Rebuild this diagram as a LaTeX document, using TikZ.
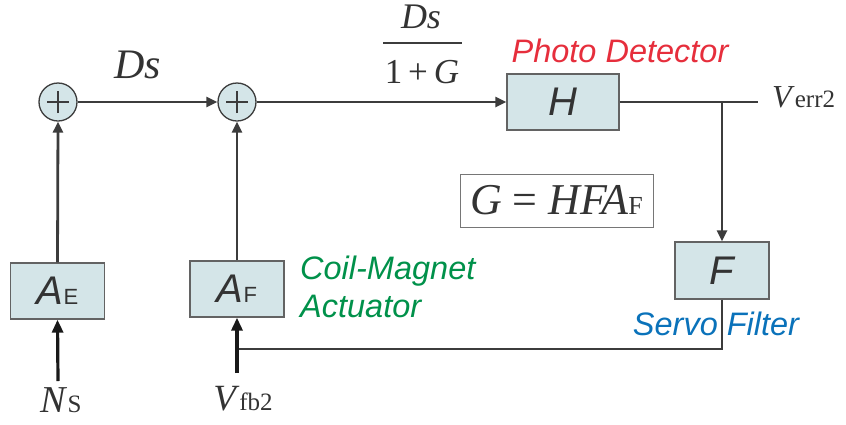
\documentclass[tikz,border=0pt]{standalone}
\usepackage{fontspec}
\setmainfont{Liberation Serif}
\newfontfamily\sansf{Liberation Sans}
\usetikzlibrary{arrows.meta,calc}
\definecolor{boxfill}{HTML}{D4E5E8}
\definecolor{linec}{HTML}{3C3C3C}
\definecolor{txt}{HTML}{333333}
\definecolor{pdred}{HTML}{E62E3C}
\definecolor{cmgreen}{HTML}{00914A}
\definecolor{sfblue}{HTML}{0A72BA}
\newcommand{\fs}[1]{\fontsize{#1}{#1}\selectfont}
\tikzset{
  blk/.style={draw=linec!80, line width=1.3pt, fill=boxfill, minimum width=94pt, minimum height=56pt, inner sep=0pt, text=txt, font=\sansf\itshape\fs{40}},
  sumnode/.style={circle, draw=linec, line width=1.3pt, fill=boxfill, minimum size=38pt, inner sep=0pt,
    path picture={\draw[linec, line width=2.8pt] ($(path picture bounding box.center)+(-11pt,0)$) -- ++(22pt,0);
                  \draw[linec, line width=2.8pt] ($(path picture bounding box.center)+(0,-11pt)$) -- ++(0,22pt);}},
  wire/.style={linec, line width=2.8pt},
  arr/.style={wire, -{Triangle[length=11pt,width=10pt]}},
  inarr/.style={black!90, line width=3.2pt, -{Triangle[length=13pt,width=11pt]}},
  serif/.style={text=txt, inner sep=0pt},
  desc/.style={inner sep=0pt, font=\sansf\itshape\fs{32.5}},
}
\begin{document}
\begin{tikzpicture}[x=1pt,y=-1pt]
\useasboundingbox (0,0) rectangle (846,424);
% summing junctions
\node[sumnode] (s1) at (58,102) {};
\node[sumnode] (s2) at (237,102) {};
% blocks
\node[blk] (AE) at (57.5,291) {A{\upshape\fs{22}E}};
\node[blk] (AF) at (237,289) {A{\upshape\fs{22}F}};
\node[blk, minimum width=112pt] (H) at (563,102) {H};
\node[blk, minimum height=57pt] (F) at (722,270.5) {F};
\node[draw=linec!70, line width=1pt, fill=white, minimum width=193pt, minimum height=53pt, inner sep=0pt, text=txt] (G) at (556.5,200.5)
  {\fs{44}\itshape G\hspace{11pt}{\upshape=}\hspace{11pt}HFA{\upshape\fs{26}F}};
% coordinates
\coordinate (vend) at (758,102);
\coordinate (br) at (722,102);
\coordinate (fbj) at (237,349);
\coordinate (nsin) at (58,381);
\coordinate (vfbin) at (237,373);
% connectors
\draw[arr] (s1.east) -- (s2.west);
\draw[arr] (s2.east) -- (H.west);
\draw[wire] (H.east) -- (vend);
\draw[arr] (br) -- (F.north);
\draw[wire] (F.south) |- (fbj);
\draw[arr] (AE.north) -- (s1.south);
\draw[arr] (AF.north) -- (s2.south);
\draw[inarr] (nsin) -- (AE.south);
\draw[inarr] (vfbin) -- (AF.south);
% labels
\node[serif, anchor=base, font=\fs{42}\itshape] (ds) at (138,78) {Ds};
\node[serif, anchor=base, font=\fs{36}\itshape] (fnum) at (421,28) {Ds};
\coordinate (fl) at (383,43);
\coordinate (fr) at (462,43);
\draw[linec, line width=1.6pt] (fl) -- (fr);
\node[serif, anchor=base, font=\fs{35}] (fden) at (422,83) {1\,+\,\textit{G}};
\node[serif, anchor=base west, font=\fs{32}] (verr) at (772,107) {\textit{V}\fs{25}err2};
\node[serif, anchor=base, font=\fs{38}] (ns) at (61,412) {\textit{N}\fs{25}S};
\node[serif, anchor=base, font=\fs{37}] (vfb) at (243,410) {\textit{V}\fs{25}fb2};
\node[desc, anchor=base, text=pdred] (pd) at (620,62) {Photo Detector};
\node[desc, anchor=base west, text=cmgreen] (cm1) at (300,279) {Coil-Magnet};
\node[desc, anchor=base west, text=cmgreen] (cm2) at (300,317) {Actuator};
\node[desc, anchor=base, text=sfblue] (sf) at (716,335) {Servo Filter};
\end{tikzpicture}
\end{document}
